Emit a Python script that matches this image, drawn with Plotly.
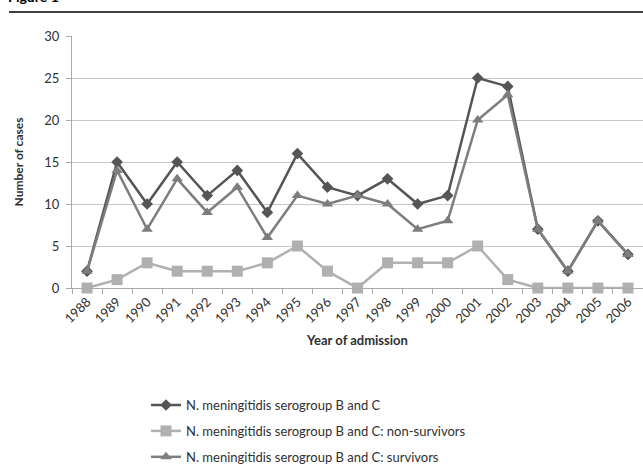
import plotly.graph_objects as go

years = [str(y) for y in range(1988, 2007)]
total = [2, 15, 10, 15, 11, 14, 9, 16, 12, 11, 13, 10, 11, 25, 24, 7, 2, 8, 4]
non_survivors = [0, 1, 3, 2, 2, 2, 3, 5, 2, 0, 3, 3, 3, 5, 1, 0, 0, 0, 0]
survivors = [2, 14, 7, 13, 9, 12, 6, 11, 10, 11, 10, 7, 8, 20, 23, 7, 2, 8, 4]

names = [
    "N. meningitidis serogroup B and C",
    "N. meningitidis serogroup B and C: non-survivors",
    "N. meningitidis serogroup B and C: survivors",
]

FONT = "Lato, 'Open Sans', sans-serif"
fig = go.Figure()
fig.add_trace(go.Scatter(x=years, y=total, name=names[0], mode="lines+markers",
                         line=dict(color="#555555", width=2.5),
                         marker=dict(symbol="diamond", size=9, color="#555555"),
                         cliponaxis=False, legendgroup="a"))
fig.add_trace(go.Scatter(x=years, y=non_survivors, name=names[1], mode="lines+markers",
                         line=dict(color="#b0b0b0", width=2.5),
                         marker=dict(symbol="square", size=11, color="#b0b0b0"),
                         cliponaxis=False, legendgroup="b"))
fig.add_trace(go.Scatter(x=years, y=survivors, name=names[2], mode="lines+markers",
                         line=dict(color="#7d7d7d", width=2.5),
                         marker=dict(symbol="triangle-up", size=10, color="#7d7d7d"),
                         cliponaxis=False, legendgroup="c"))

fig.update_layout(
    width=643, height=470,
    margin=dict(l=72, r=0, t=36, b=182, autoexpand=False),
    plot_bgcolor="white", paper_bgcolor="white",
    font=dict(family=FONT, size=12, color="#404040"),
    legend=dict(x=(146 - 72) / 571, y=-0.405, xanchor="left", yanchor="top",
                orientation="v", tracegroupgap=6, font=dict(size=13, color="#303030"),
                bgcolor="rgba(0,0,0,0)"),
    xaxis=dict(type="category", range=[-0.5, len(years) - 0.5], tickangle=-45,
               showgrid=False, showline=True, automargin=False,
               linecolor="#aaaaaa", linewidth=1.2, ticks="outside", tickson="boundaries",
               ticklen=5, tickcolor="#aaaaaa", tickfont=dict(size=13, color="#303030"),
               title=dict(text="<b>Year of admission</b>", font=dict(size=13, color="#303030"),
                          standoff=10)),
    yaxis=dict(range=[0, 30], dtick=5, showgrid=True, gridcolor="#c8c8c8", gridwidth=1.2,
               automargin=False, ticklabelstandoff=4,
               showline=True, linecolor="#aaaaaa", linewidth=1.2, ticks="outside",
               ticklen=5, tickcolor="#aaaaaa", zeroline=False,
               tickfont=dict(size=13, color="#303030"),
               title=dict(text="<b>Number of cases</b>", font=dict(size=12, color="#303030"),
                          standoff=18)),
)

fig.add_shape(type="line", xref="paper", yref="paper",
              x0=-63 / 571, x1=1.0, y0=1 + 24 / 252, y1=1 + 24 / 252,
              line=dict(color="black", width=1.5))
fig.add_annotation(text="<b>Figure 1</b>", xref="paper", yref="paper",
                   x=-66 / 571, y=1 + 29 / 252, xanchor="left", yanchor="bottom",
                   showarrow=False, font=dict(size=14, color="black", family=FONT))

fig.write_html("out.html", config={"displayModeBar": False},
               post_script="document.body.style.margin='0';document.body.style.overflow='hidden';")
